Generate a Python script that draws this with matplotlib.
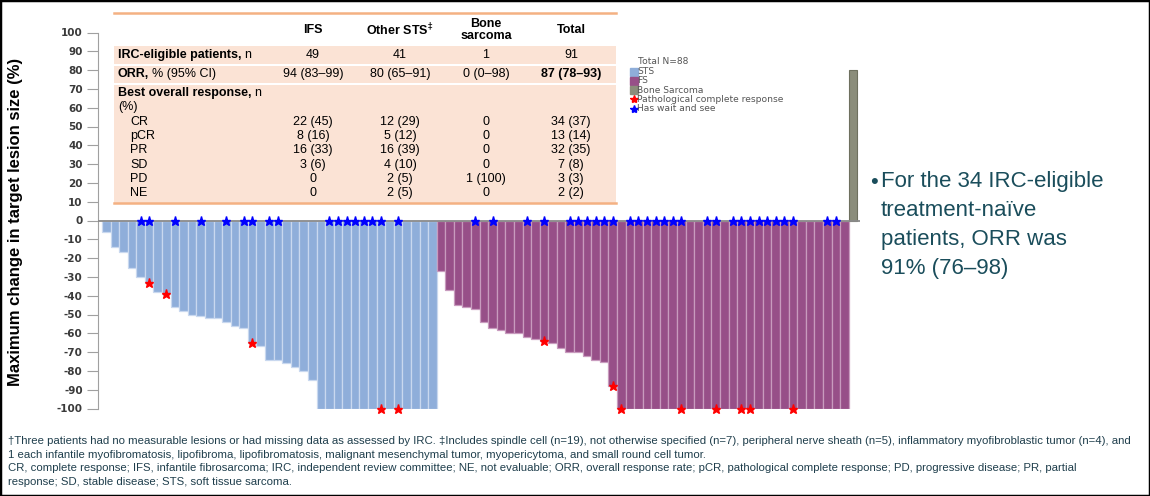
import numpy as np
import matplotlib.pyplot as plt
from matplotlib.patches import Rectangle
from matplotlib.lines import Line2D

plt.rcParams['font.family'] = ['Liberation Sans', 'DejaVu Sans']
plt.rcParams['axes.unicode_minus'] = False

# waterfall values (% change), one per patient
sts_change = [-6, -14, -17, -25, -30, -33, -38, -39, -46, -48, -50, -51, -52,
              -52, -54, -56, -57, -65, -67, -74, -74, -76, -78, -80, -85,
              -100, -100, -100, -100, -100, -100, -100, -100, -100, -100,
              -100, -100, -100, -100]
fs_change = [-27, -37, -45, -46, -47, -54, -57, -58, -60, -60, -62, -63, -64,
             -65, -68, -70, -70, -72, -74, -75, -88,
             -100, -100, -100, -100, -100, -100, -100, -100, -100, -100,
             -100, -100, -100, -100, -100, -100, -100, -100, -100, -100,
             -100, -100, -100, -100, -100, -100, -100]
bone_change = [80]

# 1-based bar numbers within each group
sts_wait = [5, 6, 9, 12, 15, 17, 18, 20, 21, 27, 28, 29, 30, 31, 32, 33, 35]
sts_pcr = [6, 8, 18, 33, 35]
fs_wait = [5, 7, 11, 13, 16, 17, 18, 19, 20, 21, 23, 24, 25, 26, 27, 28, 29,
           32, 33, 35, 36, 37, 38, 39, 40, 41, 42, 46, 47]
fs_pcr = [13, 21, 22, 29, 33, 36, 37, 42]

yticks = list(range(-100, 101, 10))

# table
col_heads = ["IFS", "Other STS$^{\u2021}$", "Bone\nsarcoma", "Total"]
irc_n = ["49", "41", "1", "91"]
orr = ["94 (83\u201399)", "80 (65\u201391)", "0 (0\u201398)", "87 (78\u201393)"]
resp_labels = ["CR", "pCR", "PR", "SD", "PD", "NE"]
resp_ifs = ["22 (45)", "8 (16)", "16 (33)", "3 (6)", "0", "0"]
resp_sts = ["12 (29)", "5 (12)", "16 (39)", "4 (10)", "2 (5)", "2 (5)"]
resp_bone = ["0", "0", "0", "0", "1 (100)", "0"]
resp_total = ["34 (37)", "13 (14)", "32 (35)", "7 (8)", "3 (3)", "2 (2)"]

W, H = 1150, 496
fig = plt.figure(figsize=(W / 100, H / 100), dpi=100)


def fx(x):
    return x / W


def fy(y):
    return 1 - y / H


ax = fig.add_axes([fx(98), fy(408.5), fx(860 - 98), (408.5 - 32.5) / H])

n_sts, n_fs = len(sts_change), len(fs_change)
x_sts = np.arange(n_sts)
x_fs = np.arange(n_fs) + n_sts
x_bone = np.arange(len(bone_change)) + n_sts + n_fs

ax.bar(x_sts, sts_change, width=1, color='#8FAEDA', edgecolor='#C9D8EF', linewidth=0.9, zorder=2)
ax.bar(x_fs, fs_change, width=1, color='#974F88', edgecolor='#C89BBE', linewidth=0.9, zorder=2)
ax.bar(x_bone, bone_change, width=0.95, color='#8B8D7B', edgecolor='#6E705F', linewidth=0.8, zorder=2)

ax.axhline(0, color='#8A8A8A', lw=1.3, zorder=3)

sts_arr = np.array(sts_change)
fs_arr = np.array(fs_change)
wx = np.concatenate([x_sts[np.array(sts_wait) - 1], x_fs[np.array(fs_wait) - 1]])
ax.plot(wx, np.zeros(len(wx)), ls='none', marker='*', ms=6.5, color='#0000FF', zorder=4, clip_on=False)
px_ = np.concatenate([x_sts[np.array(sts_pcr) - 1], x_fs[np.array(fs_pcr) - 1]])
py_ = np.concatenate([sts_arr[np.array(sts_pcr) - 1], fs_arr[np.array(fs_pcr) - 1]])
ax.plot(px_, py_, ls='none', marker='*', ms=6.5, color='#FF0000', zorder=4, clip_on=False)

ax.set_xlim(-0.5 - 4 / 8.58, n_sts + n_fs + 1 - 0.5 + 2.7 / 8.58)
ax.set_ylim(-100, 100)
ax.set_yticks(yticks)
ax.set_xticks([])
for s in ['top', 'right', 'bottom']:
    ax.spines[s].set_visible(False)
ax.spines['left'].set_color('#A0A0A0')
ax.tick_params(axis='y', length=8, width=0.8, color='#A0A0A0', labelsize=7.5, labelcolor='#3A3A3A', pad=3)
for lab in ax.get_yticklabels():
    lab.set_fontweight('bold')
    lab.set_family('DejaVu Sans')
ax.set_facecolor('none')

fig.text(fx(16), fy(222), "Maximum change in target lesion size (%)", rotation=90,
         ha='center', va='center', fontsize=12, fontweight='bold', color='black')

# legend
lx = 631
fig.text(fx(638), fy(62), "Total N=88", fontsize=6.6, color='#555555', va='center', family='DejaVu Sans')
leg_items = [("STS", '#8FAEDA', 's'), ("FS", '#974F88', 's'), ("Bone Sarcoma", '#8B8D7B', 's'),
             ("Pathological complete response", '#FF0000', '*'), ("Has wait and see", '#0000FF', '*')]
for i, (txt, c, m) in enumerate(leg_items):
    yy = 71.5 + i * 9.3
    fig.add_artist(Line2D([fx(lx + 3)], [fy(yy)], marker=m, ms=5.5 if m == 's' else 6,
                          color=c, ls='none', transform=fig.transFigure))
    fig.text(fx(637), fy(yy), txt, fontsize=6.6, color='#555555', va='center', family='DejaVu Sans')

# table
tl, tr = 114, 616
peach = '#FBE3D5'
line_c = '#F4B183'
for y0, y1 in [(46, 64), (65.5, 83), (84.5, 203)]:
    fig.add_artist(Rectangle((fx(tl), fy(y1)), fx(tr - tl), (y1 - y0) / H,
                             facecolor=peach, edgecolor='none', transform=fig.transFigure, zorder=5))
for yy in [13, 203]:
    fig.add_artist(Line2D([fx(tl), fx(tr)], [fy(yy), fy(yy)], color=line_c, lw=1.8,
                          transform=fig.transFigure, zorder=6))

cols = [313, 400, 486, 571]
fs_t = 9
renderer = fig.canvas.get_renderer()


def mixed(x, y, bold, rest):
    t = fig.text(fx(x), fy(y), bold, fontsize=fs_t, fontweight='bold', va='center', zorder=7)
    bb = t.get_window_extent(renderer)
    fig.text(bb.x1 / W + fx(3), fy(y), rest, fontsize=fs_t, va='center', zorder=7)


for cx, h in zip(cols, col_heads):
    fig.text(fx(cx), fy(30), h, fontsize=fs_t, fontweight='bold', ha='center', va='center',
             linespacing=1.0, zorder=7)

mixed(118, 55, "IRC-eligible patients,", "n")
mixed(118, 74, "ORR,", "% (95% CI)")
mixed(118, 93, "Best overall response,", "n")
fig.text(fx(118), fy(107), "(%)", fontsize=fs_t, va='center', zorder=7)
for i, cx in enumerate(cols):
    fig.text(fx(cx), fy(55), irc_n[i], fontsize=fs_t, ha='center', va='center', zorder=7)
    fig.text(fx(cx), fy(74), orr[i], fontsize=fs_t, ha='center', va='center', zorder=7,
             fontweight='bold' if i == 3 else 'normal')

for j, lab in enumerate(resp_labels):
    yy = 122 + j * 14.2
    fig.text(fx(130), fy(yy), lab, fontsize=fs_t, va='center', zorder=7)
    for cx, col in zip(cols, [resp_ifs, resp_sts, resp_bone, resp_total]):
        fig.text(fx(cx), fy(yy), col[j], fontsize=fs_t, ha='center', va='center', zorder=7)

# key message
teal = '#1A4D5B'
fig.text(fx(870), fy(182), "\u2022", fontsize=16, color=teal, va='center')
for k, line in enumerate(["For the 34 IRC-eligible", "treatment-na\u00efve",
                          "patients, ORR was", "91% (76\u201398)"]):
    fig.text(fx(881), fy(182 + k * 28.8), line, fontsize=16, color=teal, va='center')

# footnotes
foot = [
    "\u2020Three patients had no measurable lesions or had missing data as assessed by IRC. \u2021Includes spindle cell (n=19), not otherwise specified (n=7), peripheral nerve sheath (n=5), inflammatory myofibroblastic tumor (n=4), and",
    "1 each infantile myofibromatosis, lipofibroma, lipofibromatosis, malignant mesenchymal tumor, myopericytoma, and small round cell tumor.",
    "CR, complete response; IFS, infantile fibrosarcoma; IRC, independent review committee; NE, not evaluable; ORR, overall response rate; pCR, pathological complete response; PD, progressive disease; PR, partial",
    "response; SD, stable disease; STS, soft tissue sarcoma.",
]
for k, line in enumerate(foot):
    fig.text(fx(8), fy(441 + k * 13.6), line, fontsize=8.2, color='#1F3E4C', va='center')

fig.add_artist(Rectangle((0, 0), 1, 1, fill=False, edgecolor='black', lw=2.5, transform=fig.transFigure))

fig.savefig("out.png", dpi=100)
